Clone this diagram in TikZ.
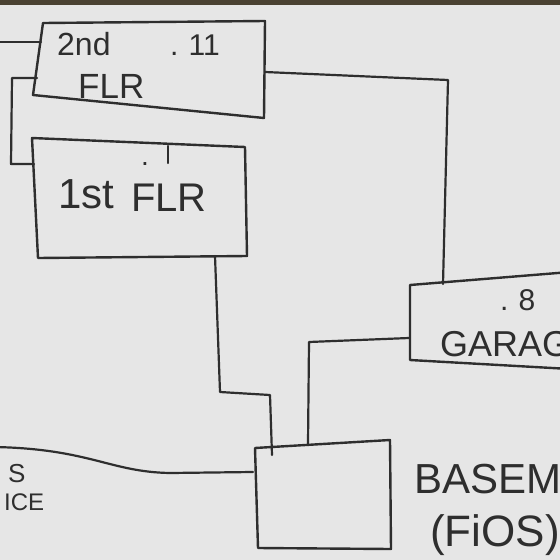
\documentclass[tikz,border=0pt]{standalone}
\usepackage{fontspec}
\setmainfont{Liberation Sans}
\definecolor{board}{HTML}{E6E6E6}
\definecolor{ink}{HTML}{2E2E2E}
\definecolor{frame}{HTML}{4A4232}
\begin{document}
\begin{tikzpicture}[x=1pt,y=-1pt,
  wire/.style={draw=ink, line width=2.2pt, line join=round, line cap=round},
  boxline/.style={draw=ink, line width=2.4pt, line join=round, line cap=round},
  lbl/.style={text=ink, inner sep=0pt, anchor=base west}]
\useasboundingbox (0,0) rectangle (560,560);
\fill[board] (0,0) rectangle (560,560);
\fill[frame] (0,0) rectangle (560,5);
\begin{scope}
\clip (0,0) rectangle (560,560);
% corners of the boxes
\coordinate (s2a) at (43,23);  \coordinate (s2b) at (265,21);
\coordinate (s2c) at (264,118); \coordinate (s2d) at (33,95);
\coordinate (s1a) at (32,138); \coordinate (s1b) at (245,147);
\coordinate (s1c) at (247,256); \coordinate (s1d) at (38,258);
\coordinate (gaa) at (410,285); \coordinate (gab) at (570,272);
\coordinate (gac) at (570,369); \coordinate (gad) at (410,360);
\coordinate (bsa) at (255,448); \coordinate (bsb) at (390,440);
\coordinate (bsc) at (391,549); \coordinate (bsd) at (258,548);
% boxes
\draw[boxline] (s2a) -- (s2b) -- (s2c) -- (s2d) -- cycle;
\draw[boxline] (s1a) -- (s1b) -- (s1c) -- (s1d) -- cycle;
\draw[boxline] (gab) -- (gaa) -- (gad) -- (gac);
\draw[boxline] (bsa) -- (bsb) -- (bsc) -- (bsd) -- cycle;
% connector end points
\coordinate (inA) at (-5,42);   \coordinate (s2L) at (41,42);
\coordinate (s2L2) at (37,78);  \coordinate (s1L) at (34,164);
\coordinate (s2R) at (265,72);  \coordinate (gaT) at (443,284);
\coordinate (s1B) at (215,256); \coordinate (bsT1) at (272,455);
\coordinate (bsT2) at (308,444); \coordinate (gaL) at (409,338);
\coordinate (inB) at (-5,447);  \coordinate (bsL) at (253,472);
% connectors
\draw[wire] (inA) -- (s2L);
\draw[wire] (s2L2) -- (12,78) -- (11,164) -- (s1L);
\draw[wire] (s2R) -- (448,80) -- (gaT);
\draw[wire] (s1B) -- (220,392) -- (270,395) -- (bsT1);
\draw[wire] (bsT2) -- (309,342) -- (gaL);
\draw[wire] (inB) .. controls (90,449) and (110,472) .. (170,473) -- (bsL);
\draw[wire] (168,146) -- (168,163);
% labels
\node[lbl, font=\fontsize{32}{32}\selectfont] (t2nd) at (57,55) {2nd};
\node[lbl, font=\fontsize{30}{30}\selectfont] (ip2) at (170,55) {.\hspace{10pt}11};
\node[lbl, font=\fontsize{35}{35}\selectfont] (f2) at (78,98) {FLR};
\node[lbl, font=\fontsize{42}{42}\selectfont] (t1st) at (58,208) {1st};
\node[lbl, font=\fontsize{40}{40}\selectfont] (f1) at (131,211) {FLR};
\node[lbl, font=\fontsize{28}{28}\selectfont] (ip1) at (141,165) {.};
\node[lbl, font=\fontsize{30}{30}\selectfont] (ip8) at (500,310) {.\hspace{10pt}8};
\node[lbl, font=\fontsize{36}{36}\selectfont] (gar) at (440,356) {GARAGE};
\node[lbl, font=\fontsize{42}{42}\selectfont] (bas) at (414,493) {BASEMENT};
\node[lbl, font=\fontsize{44}{44}\selectfont] (fios) at (430,546) {(FiOS)};
\node[lbl, font=\fontsize{26}{26}\selectfont] (ls) at (8,482) {S};
\node[lbl, font=\fontsize{24}{24}\selectfont] (lice) at (4,510) {ICE};
\end{scope}
\end{tikzpicture}
\end{document}
